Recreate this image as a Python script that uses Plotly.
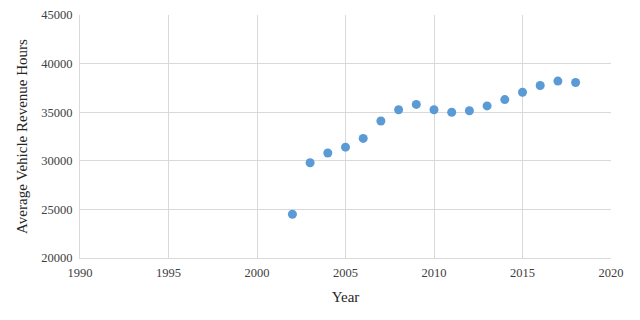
import plotly.graph_objects as go

years = [2002, 2003, 2004, 2005, 2006, 2007, 2008, 2009, 2010,
         2011, 2012, 2013, 2014, 2015, 2016, 2017, 2018]
avg_hours = [24500, 29800, 30800, 31400, 32300, 34100, 35250, 35800, 35250,
             35000, 35150, 35650, 36300, 37050, 37750, 38200, 38050]

fig = go.Figure()
fig.add_scatter(
    x=years,
    y=avg_hours,
    mode="markers",
    marker=dict(color="#5B9BD5", size=9),
    showlegend=False,
)

grid = "#d9d9d9"
fig.update_layout(
    width=624,
    height=304,
    margin=dict(l=72, r=21, t=7, b=54),
    paper_bgcolor="white",
    plot_bgcolor="white",
    font=dict(family="Liberation Serif", color="#404040", size=12.5),
    xaxis=dict(
        range=[1990, 2020],
        tick0=1990,
        dtick=5,
        tickformat="d",
        automargin=False,
        ticklabelstandoff=3,
        showgrid=True,
        gridcolor=grid,
        gridwidth=1,
        zeroline=False,
        showline=True,
        linecolor=grid,
        ticks="",
        title=dict(text="Year", font=dict(size=15, color="#262626"), standoff=12),
    ),
    yaxis=dict(
        range=[20000, 45000],
        tick0=20000,
        dtick=5000,
        tickformat="d",
        automargin=False,
        ticklabelstandoff=4,
        showgrid=True,
        gridcolor=grid,
        gridwidth=1,
        zeroline=False,
        showline=True,
        linecolor=grid,
        ticks="",
        title=dict(text="Average Vehicle Revenue Hours",
                   font=dict(size=15, color="#262626"), standoff=10),
    ),
)
fig.write_html("out.html")
